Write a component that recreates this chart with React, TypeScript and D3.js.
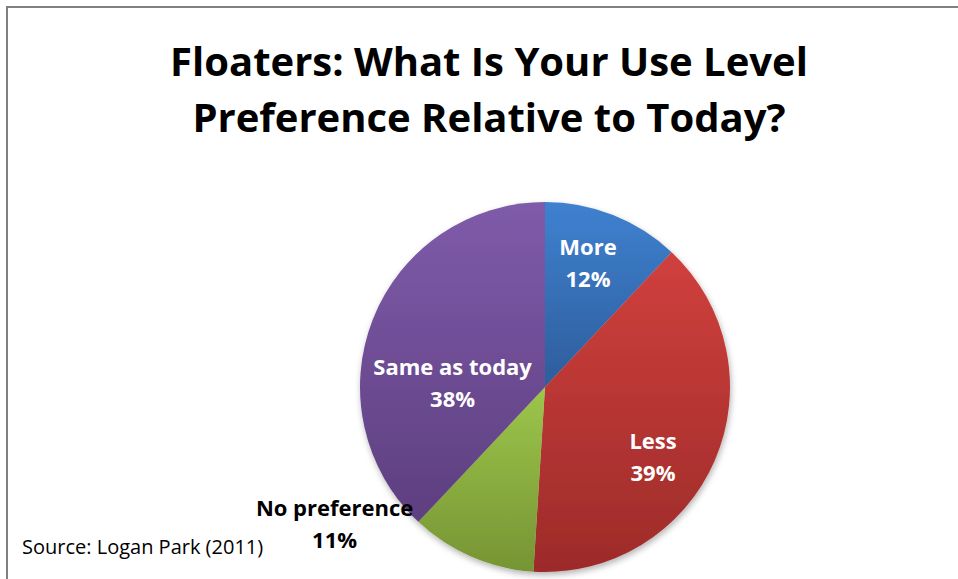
import React from "react";
import * as d3 from "d3";

const categories = ["More", "Less", "No preference", "Same as today"];
const values = [12, 39, 11, 38];
const titleLines = ["Floaters: What Is Your Use Level", "Preference Relative to Today?"];
const sourceText = "Source: Logan Park (2011)";

const sliceColors = [
  ["#3f81d0", "#2d5d9c"],
  ["#d0403d", "#9c2b29"],
  ["#9dc64b", "#769434"],
  ["#7f5baa", "#5d3f7f"],
];
// label placement: [angle in degrees clockwise from 12 o'clock, radius fraction]
const labelPlace: [number, number][] = [
  [20.3, 0.67],
  [125.8, 0.72],
  [235.5, 1.38],
  [267.5, 0.5],
];
const labelColors = ["#ffffff", "#ffffff", "#000000", "#ffffff"];

const W = 958;
const H = 579;
const cx = 545;
const cy = 387;
const R = 185;
const FONT = "'Open Sans', sans-serif";

export default function App() {
  const pie = d3.pie<number>().sort(null).value((d) => d)(values);
  const arc = d3.arc<d3.PieArcDatum<number>>().innerRadius(0).outerRadius(R);
  return (
    <svg width={W} height={H} style={{ position: "absolute", left: 0, top: 0, background: "#fff" }}>
      <defs>
        {sliceColors.map((c, i) => (
          <linearGradient key={i} id={`g${i}`} x1="0" y1="0" x2="0" y2="1">
            <stop offset="0" stopColor={c[0]} />
            <stop offset="1" stopColor={c[1]} />
          </linearGradient>
        ))}
        <filter id="sh" x="-20%" y="-20%" width="140%" height="140%">
          <feDropShadow dx="1" dy="3" stdDeviation="3" floodColor="#000" floodOpacity="0.3" />
        </filter>
      </defs>
      <rect x={7} y={7} width={W + 10} height={H + 10} fill="#fff" stroke="#808080" strokeWidth={2} />
      {titleLines.map((t, i) => (
        <text key={i} x={489} y={76 + i * 56} textAnchor="middle" fontFamily={FONT} fontWeight="bold" fontSize={40} fill="#000">
          {t}
        </text>
      ))}
      <g transform={`translate(${cx},${cy})`} filter="url(#sh)">
        {pie.map((p, i) => (
          <path key={i} d={arc(p) || ""} fill={`url(#g${i})`} />
        ))}
      </g>
      {categories.map((c, i) => {
        const a = (labelPlace[i][0] * Math.PI) / 180;
        const r = labelPlace[i][1] * R;
        const x = cx + r * Math.sin(a);
        const y = cy - r * Math.cos(a);
        const pct = Math.round((values[i] / d3.sum(values)) * 100) + "%";
        return (
          <g key={c} fontFamily={FONT} fontWeight="bold" fontSize={22} fill={labelColors[i]} textAnchor="middle">
            <text x={x} y={y - 16}>{c}</text>
            <text x={x} y={y + 16}>{pct}</text>
          </g>
        );
      })}
      <text x={22} y={554} fontFamily={FONT} fontSize={20} fill="#000">
        {sourceText}
      </text>
    </svg>
  );
}
